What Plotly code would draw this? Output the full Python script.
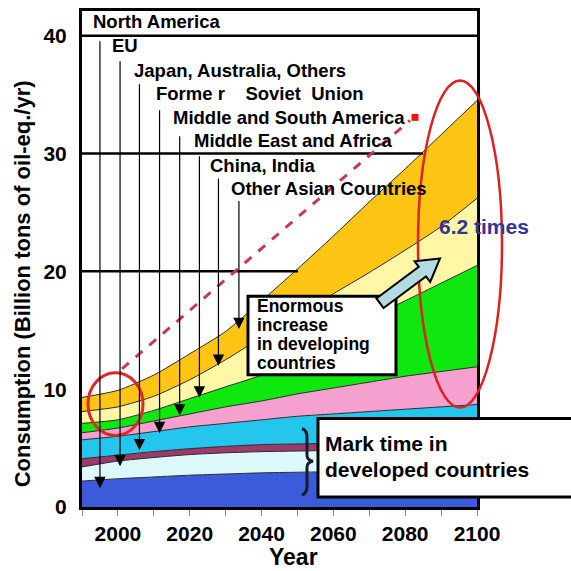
import plotly.graph_objects as go

# ---- data (Billion tons of oil-eq./yr), per region, stacked bottom -> top ----
years = [1990, 2000, 2010, 2020, 2030, 2040, 2050, 2060, 2070, 2080, 2090, 2100]
north_america = [2.2, 2.4, 2.55, 2.7, 2.8, 2.9, 2.95, 3.0, 3.05, 3.1, 3.15, 3.2]
eu = [1.2, 1.5, 1.65, 1.75, 1.8, 1.8, 1.8, 1.8, 1.75, 1.7, 1.65, 1.6]
japan_aus_others = [0.7, 0.5, 0.5, 0.5, 0.55, 0.6, 0.6, 0.6, 0.6, 0.6, 0.6, 0.6]
former_soviet = [1.6, 1.6, 1.7, 1.85, 1.95, 2.1, 2.35, 2.5, 2.7, 2.9, 3.1, 3.3]
mid_south_america = [0.6, 0.7, 0.9, 1.1, 1.4, 1.6, 1.9, 2.2, 2.5, 2.8, 3.0, 3.2]
mideast_africa = [0.8, 0.7, 0.9, 1.3, 1.7, 2.2, 3.1, 4.2, 5.4, 6.4, 7.5, 8.6]
china_india = [1.0, 1.1, 1.2, 1.6, 2.3, 3.2, 3.5, 3.8, 3.9, 4.3, 4.8, 5.7]
other_asian = [1.2, 1.4, 1.8, 2.2, 2.4, 3.1, 4.0, 4.9, 6.0, 6.9, 7.8, 8.3]

series_names = ["North America", "EU", "Japan, Australia, Others",
                "Forme r\u00a0\u00a0\u00a0 Soviet\u00a0 Union", "Middle and South America",
                "Middle East and Africa", "China, India", "Other Asian Countries"]
series_values = [north_america, eu, japan_aus_others, former_soviet,
                 mid_south_america, mideast_africa, china_india, other_asian]
series_colors = ["#3b5bdb", "#dcf8f8", "#9b3a6b", "#25c6ee",
                 "#f5a0cf", "#0ee80e", "#fff6a6", "#ffc514"]

xtick_vals = [1990, 2000, 2010, 2020, 2030, 2040, 2050, 2060, 2070, 2080, 2090, 2100]
xtick_text = ["", "2000", "", "2020", "", "2040", "", "2060", "", "2080", "", "2100"]
ytick_vals = [0, 10, 20, 30, 40]

# ---- layout helpers: pixel -> paper coordinates (plot area 82..477 x 8..507) ----
L, R, T, B = 82, 477, 8, 507
def px(x):
    return (x - L) / (R - L)
def py(y):
    return (B - y) / (B - T)

FONT = "Liberation Sans, Arial, sans-serif"

fig = go.Figure()
for name, vals, col in zip(series_names, series_values, series_colors):
    fig.add_trace(go.Scatter(
        x=years, y=vals, name=name, mode="lines", stackgroup="one",
        line=dict(color="#2a2a2a", width=1, shape="spline", smoothing=0.6),
        fillcolor=col, showlegend=False, hoverinfo="skip"))

shapes = []
# partial grid lines at 40 / 30 / 20
shapes.append(dict(type="line", xref="paper", yref="y", x0=0, x1=1, y0=40, y1=40,
                   line=dict(color="black", width=2.5)))
shapes.append(dict(type="line", xref="paper", yref="y", x0=0, x1=px(423), y0=30, y1=30,
                   line=dict(color="black", width=2.5)))
shapes.append(dict(type="line", xref="paper", yref="y", x0=0, x1=px(298), y0=20, y1=20,
                   line=dict(color="black", width=2.5)))
# red dashed trend arrow
shapes.append(dict(type="line", xref="paper", yref="paper", x0=px(122), y0=py(368),
                   x1=px(410), y1=py(118), line=dict(color="#c43a55", width=3, dash="dash")))
shapes.append(dict(type="rect", xref="paper", yref="paper", x0=px(411.5), x1=px(418.5),
                   y0=py(118.5), y1=py(111.5), fillcolor="#ee1515", line=dict(width=0)))
# circles
shapes.append(dict(type="circle", xref="paper", yref="paper", x0=px(88), x1=px(143),
                   y0=py(435), y1=py(372), line=dict(color="#d92b2b", width=3)))
shapes.append(dict(type="circle", xref="paper", yref="paper", x0=px(418), x1=px(502),
                   y0=py(407), y1=py(78), line=dict(color="#dd2020", width=2.5)))
# boxes
shapes.append(dict(type="rect", xref="paper", yref="paper", x0=px(248), x1=px(396),
                   y0=py(374), y1=py(295), fillcolor="white", line=dict(color="black", width=3)))
shapes.append(dict(type="rect", xref="paper", yref="paper", x0=px(318), x1=px(575),
                   y0=py(497), y1=py(418), fillcolor="white", line=dict(color="black", width=3)))
# fat light-blue arrow
pts = [(383.6, 306.8), (426.0, 275.0), (430.2, 280.6), (440, 257),
       (414.6, 259.8), (418.8, 265.4), (376.4, 297.2)]
path = "M " + " L ".join(f"{px(a):.5f},{py(b):.5f}" for a, b in pts) + " Z"
shapes.append(dict(type="path", xref="paper", yref="paper", path=path,
                   fillcolor="#b4dbe2", line=dict(color="black", width=2)))
# curly brace
bp = [(302, 428), (308, 430), (307, 440), (307, 455), (313, 461), (307, 467),
      (307, 482), (308, 493), (302, 495)]
def P(p):
    return f"{px(p[0]):.5f},{py(p[1]):.5f}"
brace = (f"M {P(bp[0])} Q {P(bp[1])} {P(bp[2])} L {P(bp[3])} Q {P((307,460))} {P(bp[4])} "
         f"Q {P((307,462))} {P(bp[5])} L {P(bp[6])} Q {P(bp[7])} {P(bp[8])}")
shapes.append(dict(type="path", xref="paper", yref="paper", path=brace,
                   line=dict(color="#1a1a2a", width=3)))

ann = []
# region labels (data coordinates)
label_pos = [(1992.6, 41.2), (1997.8, 39.2), (2003.8, 37.05), (2010.05, 35.06),
             (2014.7, 33.08), (2020.6, 31.1), (2025.1, 29.0), (2031.0, 27.0)]
for name, (lx, ly) in zip(series_names, label_pos):
    ann.append(dict(x=lx, y=ly, xref="x", yref="y", text=name, showarrow=False,
                    xanchor="left", yanchor="middle",
                    font=dict(family=FONT, size=18.5, color="black", weight="bold")))
# vertical pointer arrows: (x, tail_y, tip_y)
arrows = [(1995.0, 39.66, 1.6), (2000.6, 37.97, 3.46), (2006.0, 36.0, 4.81),
          (2011.6, 33.8, 6.27), (2017.2, 31.6, 7.76), (2022.7, 29.9, 9.28),
          (2028.0, 28.0, 11.98), (2033.7, 26.1, 15.1)]
for ax_, ty, hy in arrows:
    ann.append(dict(x=ax_, y=hy, ax=ax_, ay=ty, xref="x", yref="y", axref="x", ayref="y",
                    text="", showarrow=True, arrowhead=2, arrowsize=1.9, arrowwidth=1.2,
                    arrowcolor="black"))
# box texts
for t, yy in [("Enormous", 305), ("increase", 324), ("in developing", 343),
              ("countries", 362)]:
    ann.append(dict(x=px(255), y=py(yy), xref="paper", yref="paper", text=t,
                    showarrow=False, xanchor="left", yanchor="middle",
                    font=dict(family=FONT, size=17.5, color="black", weight="bold")))
for t, yy in [("Mark time in", 443), ("developed countries", 469)]:
    ann.append(dict(x=px(323), y=py(yy), xref="paper", yref="paper", text=t,
                    showarrow=False, xanchor="left", yanchor="middle",
                    font=dict(family=FONT, size=21, color="black", weight="bold")))
ann.append(dict(x=px(437), y=py(225), xref="paper", yref="paper", text="6.2 times",
                showarrow=False, xanchor="left", yanchor="middle",
                font=dict(family=FONT, size=21, color="#333399", weight="bold")))
# axis titles
ann.append(dict(x=px(293), y=py(557), xref="paper", yref="paper", text="Year",
                showarrow=False, xanchor="center", yanchor="middle",
                font=dict(family=FONT, size=23, color="black", weight="bold")))
ann.append(dict(x=px(22), y=py(283), xref="paper", yref="paper",
                text="Consumption (Billion tons of oil-eq./yr)", textangle=-90,
                showarrow=False, xanchor="center", yanchor="middle",
                font=dict(family=FONT, size=22, color="black", weight="bold")))

fig.update_layout(
    width=571, height=571,
    margin=dict(l=L, r=571 - R, t=T, b=571 - B),
    paper_bgcolor="white", plot_bgcolor="white",
    shapes=shapes, annotations=ann,
    xaxis=dict(range=[1990, 2100], tickvals=xtick_vals, ticktext=xtick_text,
               showline=True, linewidth=3, linecolor="black", mirror=True,
               ticks="outside", ticklen=6, tickwidth=1, tickcolor="#888",
               showgrid=False, zeroline=False,
               tickfont=dict(family=FONT, size=21, color="black", weight="bold")),
    yaxis=dict(range=[0, 42.1], tickvals=ytick_vals,
               showline=True, linewidth=3, linecolor="black", mirror=True,
               ticks="outside", ticklen=8, tickcolor="rgba(0,0,0,0)",
               showgrid=False, zeroline=False,
               tickfont=dict(family=FONT, size=21, color="black", weight="bold")),
)
fig.write_html("out.html")
